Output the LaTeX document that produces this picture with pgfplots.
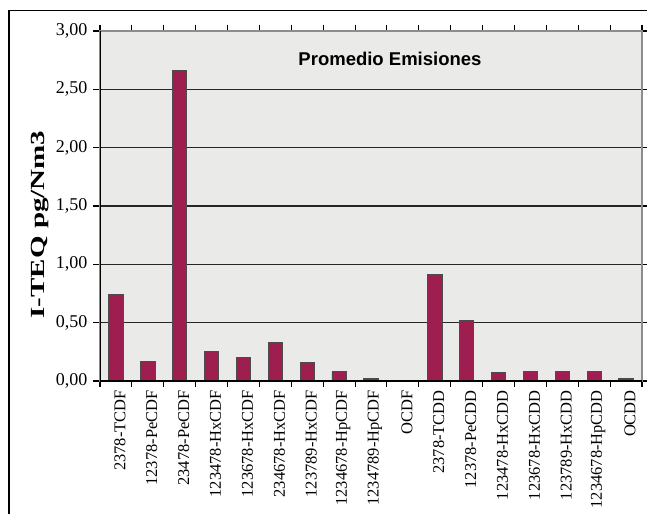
\documentclass[border=0pt]{standalone}
\usepackage{fontspec}
\setmainfont{Liberation Serif}
\newfontfamily\arial{Liberation Sans}
\usepackage{graphicx}
\usepackage{pgfplots}
\pgfplotsset{compat=1.18}

\definecolor{barcol}{RGB}{158,30,80}
\definecolor{bgcol}{RGB}{234,234,232}

\begin{document}
\begin{tikzpicture}
\useasboundingbox (0pt,0pt) rectangle (647pt,-514pt);
% marco exterior
\draw[black, line width=1.3pt] (9pt,-514pt) -- (9pt,-10.5pt) -- (647pt,-10.5pt);

\begin{axis}[
    at={(100pt,-381pt)}, anchor=south west,
    scale only axis,
    width=542pt, height=350pt,
    ybar, bar width=0.45,
    xmin=-0.5, xmax=16.5,
    ymin=0, ymax=3,
    enlargelimits=false,
    axis background/.style={fill=bgcol},
    axis line style={draw=gray!90, line width=1.2pt},
    xtick={0,...,16},
    xticklabels={2378-TCDF,12378-PeCDF,23478-PeCDF,123478-HxCDF,123678-HxCDF,
        234678-HxCDF,123789-HxCDF,1234678-HpCDF,1234789-HpCDF,OCDF,
        2378-TCDD,12378-PeCDD,123478-HxCDD,123678-HxCDD,123789-HxCDD,
        1234678-HpCDD,OCDD},
    minor xtick={-0.5,0.5,...,16.5},
    major x tick style={draw=none},
    minor x tick style={black, line width=1.1pt},
    minor tick length=6pt,
    ytick={0,0.5,...,3},
    y tick style={black, line width=1.1pt},
    major tick length=7pt,
    tick align=outside,
    ymajorgrids,
    major grid style={black!85, line width=1.5pt},
    xticklabel style={rotate=90, anchor=east, font=\fontsize{16.5}{16.5}\selectfont, inner sep=2pt, yshift=-4pt},
    yticklabel style={font=\fontsize{18}{18}\selectfont, xshift=-2pt},
    /pgf/number format/.cd, fixed, fixed zerofill, precision=2, use comma,
    assume math mode=true,
    /pgfplots/.cd,
    ylabel={\scalebox{1.45}[1]{\bfseries I-TEQ pg/Nm3}},
    ylabel style={font=\fontsize{20}{20}\selectfont, at={(ticklabel cs:0.47)}, xshift=-8pt},
]
\addplot[fill=barcol, draw=black!70, line width=0.8pt] coordinates {
    (0,0.74) (1,0.17) (2,2.66) (3,0.25) (4,0.20) (5,0.33) (6,0.16)
    (7,0.08) (8,0.02) (9,0.0) (10,0.91) (11,0.52) (12,0.07) (13,0.08)
    (14,0.08) (15,0.08) (16,0.02)
};
\draw[black, line width=1.3pt] (rel axis cs:0,1) -- (rel axis cs:0,0) -- (rel axis cs:1,0);
\node[font=\arial\bfseries\fontsize{18.5}{19}\selectfont] at (rel axis cs:0.535,0.92) {Promedio Emisiones};
\end{axis}
\end{tikzpicture}
\end{document}
